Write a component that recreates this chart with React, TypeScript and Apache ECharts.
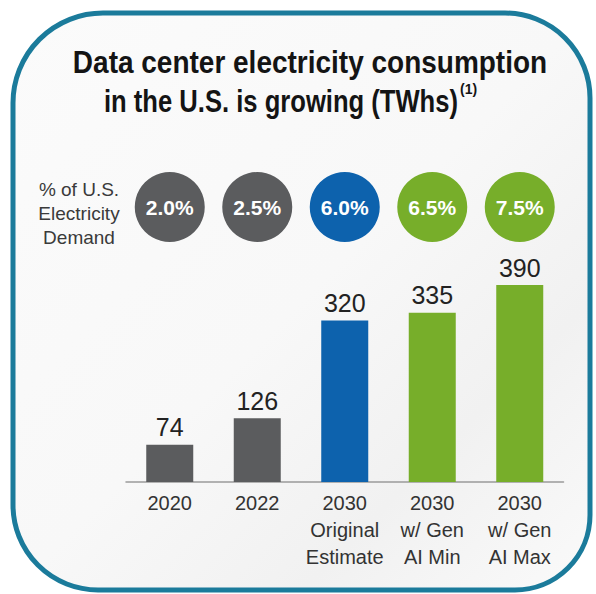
import React, { useEffect, useRef } from "react";
import * as echarts from "echarts";

const categories = [
  "2020",
  "2022",
  "2030\nOriginal\nEstimate",
  "2030\nw/ Gen\nAI Min",
  "2030\nw/ Gen\nAI Max",
];
const consumptionTWh = [74, 126, 320, 335, 390];
const demandSharePct = [2.0, 2.5, 6.0, 6.5, 7.5];
const markColors = ["#5b5c5e", "#5b5c5e", "#0d62ad", "#77ae2a", "#77ae2a"];

const titleLine1 = "Data center electricity consumption";
const titleLine2 = "in the U.S. is growing (TWhs)";
const titleNote = "(1)";
const rowLabel = "% of U.S.\nElectricity\nDemand";

export default function App() {
  const ref = useRef<HTMLDivElement>(null);

  useEffect(() => {
    if (!ref.current) return;
    const chart = echarts.init(ref.current, null, { renderer: "svg" });
    const font = "'Liberation Sans', Arial, sans-serif";
    const titleFont = "bold 32px 'Liberation Sans', Arial, sans-serif";
    chart.setOption({
      animation: false,
      backgroundColor: "#ffffff",
      graphic: [
        {
          type: "rect",
          z: -10,
          shape: { x: 13, y: 13, width: 577, height: 577, r: [90, 85, 75, 85] },
          style: {
            fill: new echarts.graphic.LinearGradient(0, 0, 1, 1, [
              { offset: 0, color: "#fbfbfb" },
              { offset: 0.5, color: "#f8f8f8" },
              { offset: 0.75, color: "#f1f1f1" },
              { offset: 1, color: "#fafafa" },
            ]),
            stroke: "#1b7b9b",
            lineWidth: 5,
          },
        },
        {
          type: "text",
          x: 310,
          y: 62,
          scaleX: 0.875,
          style: {
            text: titleLine1,
            font: titleFont,
            fill: "#141414",
            align: "center",
            verticalAlign: "middle",
          },
        },
        {
          type: "text",
          x: 281,
          y: 101,
          scaleX: 0.8,
          style: {
            text: titleLine2,
            font: titleFont,
            fill: "#141414",
            align: "center",
            verticalAlign: "middle",
          },
        },
        {
          type: "text",
          x: 460,
          y: 89,
          style: {
            text: titleNote,
            font: "bold 14px 'Liberation Sans', Arial, sans-serif",
            fill: "#141414",
            align: "left",
            verticalAlign: "middle",
          },
        },
        {
          type: "text",
          x: 79,
          y: 213,
          style: {
            text: rowLabel,
            font: "19px " + font,
            lineHeight: 24,
            fill: "#3a3a3a",
            align: "center",
            verticalAlign: "middle",
          },
        },
      ],
      grid: [
        { left: 126, right: 32.5, top: 280, bottom: 112 },
        { left: 126, right: 32.5, top: 172, height: 70 },
      ],
      xAxis: [
        {
          type: "category",
          gridIndex: 0,
          data: categories,
          axisLine: { lineStyle: { color: "#9a9a9a", width: 1.5 } },
          axisTick: { show: false },
          axisLabel: {
            color: "#333333",
            fontSize: 20,
            lineHeight: 27,
            fontFamily: font,
            margin: 7,
            interval: 0,
          },
        },
        {
          type: "category",
          gridIndex: 1,
          data: categories,
          show: false,
        },
      ],
      yAxis: [
        { type: "value", gridIndex: 0, min: 0, max: 400, show: false },
        { type: "value", gridIndex: 1, min: -1, max: 1, show: false },
      ],
      series: [
        {
          type: "bar",
          xAxisIndex: 0,
          yAxisIndex: 0,
          barWidth: 47,
          data: consumptionTWh.map((v, i) => ({
            value: v,
            itemStyle: { color: markColors[i] },
          })),
          label: {
            show: true,
            position: "top",
            distance: 5,
            color: "#222222",
            fontSize: 25,
            fontFamily: font,
          },
        },
        {
          type: "scatter",
          xAxisIndex: 1,
          yAxisIndex: 1,
          symbol: "circle",
          symbolSize: 70,
          data: demandSharePct.map((p, i) => ({
            value: [i, 0],
            itemStyle: { color: markColors[i], opacity: 1 },
          })),
          label: {
            show: true,
            position: "inside",
            color: "#ffffff",
            fontSize: 21,
            fontWeight: "bold",
            fontFamily: font,
            formatter: (p: any) => demandSharePct[p.dataIndex].toFixed(1) + "%",
          },
        },
      ],
    });
    return () => chart.dispose();
  }, []);

  return (
    <div
      ref={ref}
      style={{ position: "absolute", left: 0, top: 0, width: 596, height: 594 }}
    />
  );
}
